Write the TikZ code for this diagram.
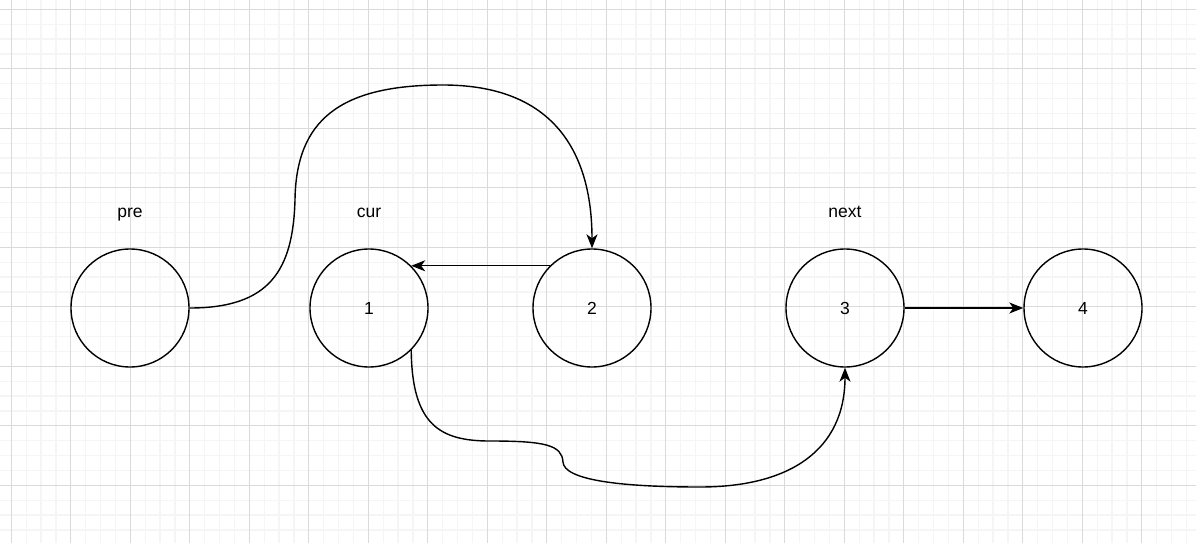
\documentclass[tikz,border=0pt]{standalone}
\usepackage{fontspec}
\setmainfont{Liberation Sans}
\usetikzlibrary{arrows.meta}
\definecolor{majorg}{HTML}{DADADA}
\definecolor{minorg}{HTML}{F5F5F5}
\tikzset{
  minorgrid/.style={draw=minorg,line width=1.2pt},
  majorgrid/.style={draw=majorg,line width=1pt},
  listnode/.style={circle,draw=black,line width=1.4pt,minimum size=118pt,inner sep=0pt,font=\fontsize{17.5}{20}\selectfont},
  varlabel/.style={font=\fontsize{17.5}{20}\selectfont,inner sep=0pt,anchor=base},
  link/.style={draw=black,line width=1.4pt,-{Stealth[length=14pt,width=11pt,inset=4pt]}}
}
\begin{document}
\begin{tikzpicture}[x=1pt,y=-1pt]
\useasboundingbox (0,0) rectangle (1196,543);
\fill[white] (0,0) rectangle (1196,543);
% grid
\foreach \i in {0,...,80} {\draw[minorgrid] ({11.3+\i*14.875},0) -- ({11.3+\i*14.875},543);}
\foreach \j in {0,...,35} {\draw[minorgrid] (0,{9.3+\j*14.875}) -- (1196,{9.3+\j*14.875});}
\foreach \k in {0,...,19} {\draw[majorgrid] ({11.3+\k*59.5},0) -- ({11.3+\k*59.5},543);}
\foreach \k in {0,...,8} {\draw[majorgrid] (0,{9.3+\k*59.5}) -- (1196,{9.3+\k*59.5});}
% nodes
\node[listnode] (pre) at (130,308) {};
\node[listnode] (n1) at (369,308) {1};
\node[listnode] (n2) at (592,308) {2};
\node[listnode] (n3) at (845,308) {3};
\node[listnode] (n4) at (1083,308) {4};
\node[varlabel] (lpre) at (130,217) {pre};
\node[varlabel] (lcur) at (369,217) {cur};
\node[varlabel] (lnext) at (845,217) {next};
% connectors
\draw[link] (pre.east) .. controls (270,308) and (293,270) .. (295,200)
  .. controls (296,120) and (340,85) .. (443,85)
  .. controls (560,85) and (592,160) .. (n2.north);
\draw[link] (n2.135) -- (n1.45);
\draw[link] (n1.-45) .. controls (412,425) and (440,441) .. (490,441)
  .. controls (545,441) and (562,445) .. (563,462)
  .. controls (564,480) and (620,487) .. (700,487)
  .. controls (790,487) and (845,450) .. (n3.south);
\draw[link] (n3.east) -- (n4.west);
\end{tikzpicture}
\end{document}
